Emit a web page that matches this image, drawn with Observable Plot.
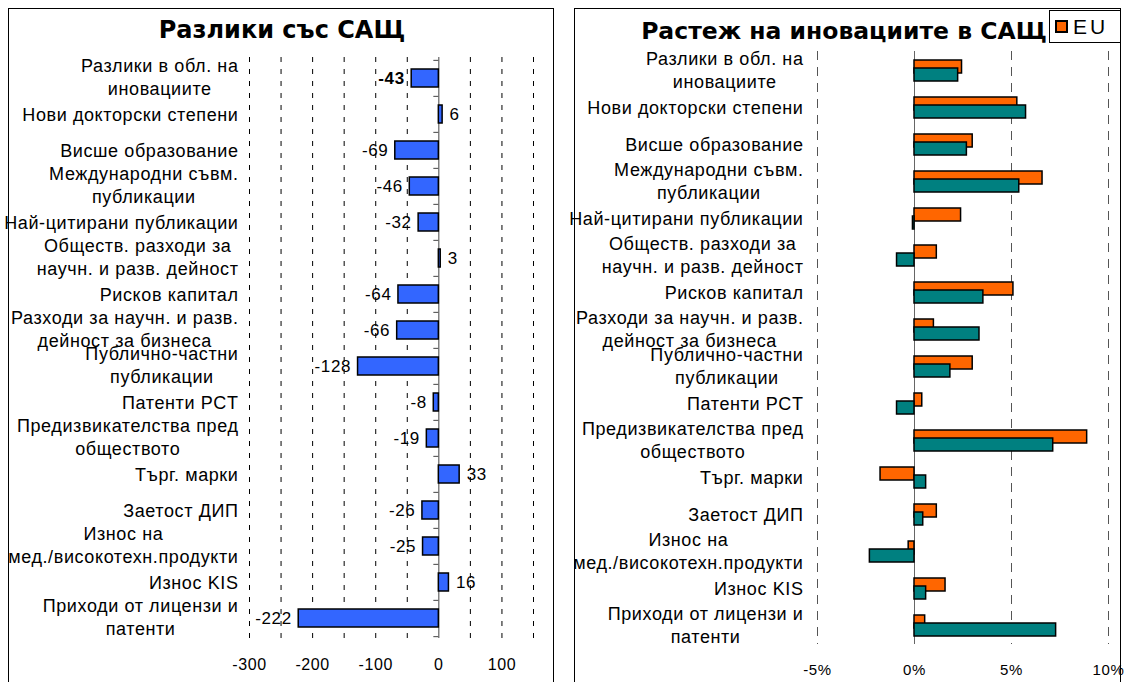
<!DOCTYPE html>
<html><head><meta charset="utf-8">
<script src="https://cdn.jsdelivr.net/npm/d3@7"></script>
<script src="https://cdn.jsdelivr.net/npm/@observablehq/plot@0.6"></script>
<style>
html,body{margin:0;padding:0;background:#fff;}
#root{position:relative;width:1125px;height:682px;overflow:hidden;font-family:"Liberation Sans",Arial,sans-serif;}
.panel{position:absolute;border:1px solid #000;top:8px;height:720px;box-sizing:border-box;}
.title{position:absolute;font-family:"DejaVu Sans",sans-serif;font-weight:bold;font-size:24px;line-height:26px;white-space:nowrap;transform:translate(-50%,-50%);}
.plot{position:absolute;top:0;}
#legend{position:absolute;left:1049px;top:10px;width:72px;height:33px;border:1px solid #000;background:#fff;box-sizing:border-box;font-size:21px;letter-spacing:3px;}
#legend .sw{position:absolute;left:5px;top:9px;width:9px;height:9px;background:#ff6600;border:2px solid #000;}
#legend .lb{position:absolute;left:23px;top:4px;}
</style></head><body>
<div id="root">
  <div class="panel" style="left:8px;width:546px"></div>
  <div class="panel" style="left:574px;width:547px"></div>
  <div id="left" class="plot" style="left:0"></div>
  <div id="right" class="plot" style="left:560px"></div>
  <div class="title" style="left:282px;top:30px">Разлики със САЩ</div>
  <div class="title" style="left:844px;top:31px;font-size:23.5px">Растеж на иновациите в САЩ</div>
  <div id="legend"><div class="sw"></div><div class="lb">EU</div></div>
</div>
<script>
const categories = [
  "Разлики в обл. на\nиновациите",
  "Нови докторски степени",
  "Висше образование",
  "Международни съвм.\nпубликации",
  "Най-цитирани публикации",
  "Обществ. разходи за\nнаучн. и разв. дейност",
  "Рисков капитал",
  "Разходи за научн. и разв.\nдейност за бизнеса",
  "Публично-частни\nпубликации",
  "Патенти PCT",
  "Предизвикателства пред\nобществото",
  "Търг. марки",
  "Заетост ДИП",
  "Износ на\nмед./високотехн.продукти",
  "Износ KIS",
  "Приходи от лицензи и\nпатенти"
];
const gapUS = [-43, 6, -69, -46, -32, 3, -64, -66, -128, -8, -19, 33, -26, -25, 16, -222];
const growthEU = [2.45, 5.3, 3.0, 6.6, 2.4, 1.15, 5.1, 1.0, 3.0, 0.4, 8.9, -1.75, 1.15, -0.3, 1.6, 0.55];
const growthUS = [2.25, 5.75, 2.7, 5.4, -0.08, -0.9, 3.55, 3.35, 1.85, -0.9, 7.15, 0.6, 0.45, -2.3, 0.6, 7.3];
const leftTicks = [-300, -200, -100, 0, 100];
const leftGrid = [-300, -250, -200, -150, -100, -50, 50, 100, 150];
const rightTicks = [-5, 0, 5, 10];
const rightGrid = [-5, 5, 10];

const LABEL_FONT = 18, LS = 0.6;
const ctx = document.createElement("canvas").getContext("2d");
ctx.font = `${LABEL_FONT}px "Liberation Sans"`;
const maxW = s => Math.max(...s.split("\n").map(l => ctx.measureText(l).width + LS * l.length));
const labelMarks = (rightEdge, ml) => categories.map(c => Plot.text([c], {
  y: d => d, text: d => d, frameAnchor: "left", textAnchor: "middle",
  dx: rightEdge - ml - maxW(c) / 2, dy: c.includes("\n") ? -2 : -1,
  fontSize: LABEL_FONT, lineHeight: 1.28, fill: "#000"
}));
const plotStyle = {background: "transparent", overflow: "visible", letterSpacing: LS + "px", fontFamily: '"Liberation Sans", Arial, sans-serif'};

// LEFT
const leftData = categories.map((c, i) => ({cat: c, v: gapUS[i], i}));
const L = {w: 560, h: 682, ml: 249, mr: 27, mt: 57, mb: 44};
const stepL = (L.h - L.mt - L.mb) / categories.length;
const pxPerUnitL = (L.w - L.ml - L.mr) / 450;
const left = Plot.plot({
  width: L.w, height: L.h, marginLeft: L.ml, marginRight: L.mr, marginTop: L.mt, marginBottom: L.mb,
  style: plotStyle,
  x: {domain: [-300, 150], axis: null},
  y: {domain: categories, padding: 0, axis: null},
  marks: [
    Plot.ruleX(leftGrid, {stroke: "#000", strokeWidth: 1, strokeDasharray: "5,7"}),
    Plot.ruleX([0], {stroke: "#444", strokeWidth: 1}),
    Plot.ruleY(categories, {y: d => d, x1: 0, x2: -5 / pxPerUnitL, dy: -stepL / 2, stroke: "#444"}),
    Plot.ruleY(categories.slice(-1), {y: d => d, x1: 0, x2: -5 / pxPerUnitL, dy: stepL / 2, stroke: "#444"}),
    Plot.barX(leftData, {y: "cat", x: "v", fill: "#3366ff", stroke: "#000", strokeWidth: 1.5, insetTop: 9, insetBottom: 9}),
    Plot.text(leftData.filter(d => d.v < 0 && d.i > 0), {y: "cat", x: "v", text: d => String(d.v), textAnchor: "end", dx: -7, fontSize: 17, fill: "#000"}),
    Plot.text(leftData.filter(d => d.i === 0), {y: "cat", x: "v", text: d => String(d.v), textAnchor: "end", dx: -7, fontSize: 17, fontWeight: "bold", fill: "#000"}),
    Plot.text(leftData.filter(d => d.v >= 0), {y: "cat", x: "v", text: d => String(d.v), textAnchor: "start", dx: 7, fontSize: 17, fill: "#000"}),
    Plot.axisX(leftTicks, {tickSize: 0, tickPadding: 20, fontSize: 16, tickFormat: d => String(d), fill: "#000", label: null}),
    ...labelMarks(238, L.ml)
  ]
});
document.getElementById("left").append(left);

// RIGHT
const euData = categories.map((c, i) => ({cat: c, v: growthEU[i]}));
const usData = categories.map((c, i) => ({cat: c, v: growthUS[i]}));
const R = {w: 565, h: 682, ml: 257, mr: 17, mt: 51, mb: 38};
const right = Plot.plot({
  width: R.w, height: R.h, marginLeft: R.ml, marginRight: R.mr, marginTop: R.mt, marginBottom: R.mb,
  style: plotStyle,
  x: {domain: [-5, 10], axis: null},
  y: {domain: categories, padding: 0, axis: null},
  marks: [
    Plot.ruleX(rightGrid, {stroke: "#555", strokeWidth: 1, strokeDasharray: "9,7"}),
    Plot.ruleX([0], {stroke: "#666", strokeWidth: 1}),
    Plot.barX(euData, {y: "cat", x: "v", fill: "#ff6600", stroke: "#000", strokeWidth: 1.5, insetTop: 8, insetBottom: 16}),
    Plot.barX(usData, {y: "cat", x: "v", fill: "#008080", stroke: "#000", strokeWidth: 1.5, insetTop: 16, insetBottom: 8}),
    Plot.axisX(rightTicks, {tickSize: 0, tickPadding: 20, fontSize: 15, tickFormat: d => d + "%", fill: "#000", label: null}),
    ...labelMarks(243, R.ml)
  ]
});
document.getElementById("right").append(right);
</script>
</body></html>
